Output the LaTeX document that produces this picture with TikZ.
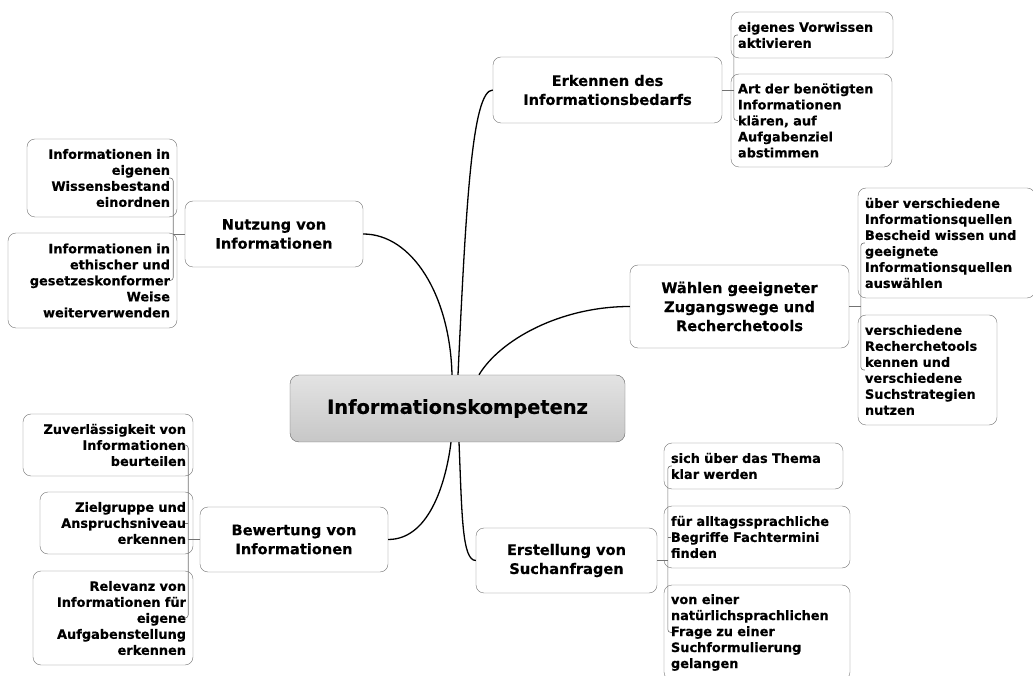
\documentclass[tikz,border=0pt]{standalone}
\usepackage{fontspec}
\setmainfont{DejaVu Sans}[BoldFeatures={FakeBold=0.4}]
\usetikzlibrary{calc}
\tikzset{blattl/.style={blatt, align=left, text width=#1}, % Unterpunkt rechts
         blattr/.style={blatt, align=right, text width=#1}} % Unterpunkt links
\begin{document}
\begin{tikzpicture}[x=1pt, y=1pt] % Mindmap
\tikzstyle{kern} = [draw=black!60, rounded corners=9pt, top color=black!11, bottom color=black!22, minimum width=335pt, minimum height=67pt, font=\fontsize{19.4}{23}\selectfont\bfseries] % zentraler Knoten
\tikzstyle{ast} = [draw=black!55, rounded corners=8pt, fill=white, align=center, font=\fontsize{14.6}{19}\selectfont\bfseries] % Hauptast
\tikzstyle{blatt} = [draw=black!55, rounded corners=8pt, fill=white, inner xsep=7pt, inner ysep=2pt, font=\fontsize{12.9}{16}\selectfont\bfseries] % Unterpunkt
\tikzstyle{linie} = [line width=1.3pt, black] % Verbindung zum Zentrum
\tikzstyle{zweig} = [line width=0.6pt, black!55, rounded corners=3pt] % Klammer zu den Unterpunkten

\useasboundingbox (0,0) rectangle (1033,675);

\node[kern] (ik) at (457.5,266.5) {Informationskompetenz};

% Hauptaeste
\node[ast, minimum width=229pt, minimum height=66pt] (erk) at (607.5,585) {Erkennen des\\Informationsbedarfs};
\node[ast, minimum width=178pt, minimum height=66pt] (nutz) at (274,441) {Nutzung von\\Informationen};
\node[ast, minimum width=219pt, minimum height=83pt] (wahl) at (739.5,368.5) {Wählen geeigneter\\Zugangswege und\\Recherchetools};
\node[ast, minimum width=188pt, minimum height=65pt] (bew) at (294,135.5) {Bewertung von\\Informationen};
\node[ast, minimum width=181pt, minimum height=65pt] (erst) at (566.5,114.5) {Erstellung von\\Suchanfragen};

% Unterpunkte
\node[blattl=148pt, minimum height=46pt] (erk1) at (812,640) {eigenes Vorwissen\\aktivieren};
\node[blattl=147pt, minimum height=93pt] (erk2) at (811.5,554.5) {Art der benötigten\\Informationen\\klären, auf\\Aufgabenziel\\abstimmen};
\node[blattr=136pt, minimum height=78pt] (nutz1) at (102,497) {Informationen in\\eigenen\\Wissensbestand\\einordnen};
\node[blattr=155pt, minimum height=95pt] (nutz2) at (92.5,394.5) {Informationen in\\ethischer und\\gesetzeskonformer\\Weise\\weiterverwenden};
\node[blattl=163pt, minimum height=110pt] (wahl1) at (946.5,432) {über verschiedene\\Informationsquellen\\Bescheid wissen und\\geeignete\\Informationsquellen\\auswählen};
\node[blattl=125pt, minimum height=110pt] (wahl2) at (927.5,305) {verschiedene\\Recherchetools\\kennen und\\verschiedene\\Suchstrategien\\nutzen};
\node[blattr=156pt, minimum height=62pt] (bew1) at (108,230) {Zuverlässigkeit von\\Informationen\\beurteilen};
\node[blattr=139pt, minimum height=62pt] (bew2) at (116.5,152) {Zielgruppe und\\Anspruchsniveau\\erkennen};
\node[blattr=146pt, minimum height=94pt] (bew3) at (113,57) {Relevanz von\\Informationen für\\eigene\\Aufgabenstellung\\erkennen};
\node[blattl=165pt, minimum height=46pt] (erst1) at (753.5,209) {sich über das Thema\\klar werden};
\node[blattl=172pt, minimum height=62pt] (erst2) at (757,138) {für alltagssprachliche\\Begriffe Fachtermini\\finden};
\node[blattl=172pt, minimum height=95pt] (erst3) at (757,42.5) {von einer\\natürlichsprachlichen\\Frage zu einer\\Suchformulierung\\gelangen};

% Verbindungen zum Zentrum
\draw[linie] ([xshift=0.5pt]ik.north) .. controls (466,470) and (472,585) .. (erk.west);
\draw[linie] (nutz.east) .. controls (412,441) and (450,380) .. ([xshift=-5.5pt]ik.north);
\draw[linie] ([xshift=21.5pt]ik.north) .. controls (500,335) and (560,368.5) .. (wahl.west);
\draw[linie] (bew.east) .. controls (432,135.5) and (447,200) .. ([xshift=-6.5pt]ik.south);
\draw[linie] ([xshift=1.5pt]ik.south) .. controls (462,160) and (462,114.5) .. (erst.west);

% Klammern
\draw[zweig] (erk.east) -- ($(erk.east -| erk1.west)+(3,0)$);
\draw[zweig] ([xshift=7pt]erk1.west) -| ([xshift=3pt]erk2.west) -- ([xshift=7pt]erk2.west);
\draw[zweig] (nutz.west) -- ($(nutz.west -| nutz1.east)+(-4,0)$);
\draw[zweig] ([xshift=-8pt]nutz1.east) -| ([xshift=-4pt]nutz2.east) -- ([xshift=-8pt]nutz2.east);
\draw[zweig] (wahl.east) -- ($(wahl.east -| wahl1.west)+(3,0)$);
\draw[zweig] ([xshift=7pt]wahl1.west) -| ([xshift=3pt]wahl2.west) -- ([xshift=7pt]wahl2.west);
\draw[zweig] (bew.west) -- ($(bew.west -| bew1.east)+(-5,0)$);
\draw[zweig] ([xshift=-9pt]bew1.east) -| ([xshift=-5pt]bew3.east) -- ([xshift=-9pt]bew3.east);
\draw[zweig] ([xshift=-5pt]bew2.east) -- ([xshift=-8pt]bew2.east);
\draw[zweig] (erst.east) -- ($(erst.east -| erst1.west)+(4,0)$);
\draw[zweig] ([xshift=8pt]erst1.west) -| ([xshift=4pt]erst3.west) -- ([xshift=8pt]erst3.west);
\draw[zweig] ([xshift=4pt]erst2.west) -- ([xshift=7pt]erst2.west);
\end{tikzpicture}
\end{document}
